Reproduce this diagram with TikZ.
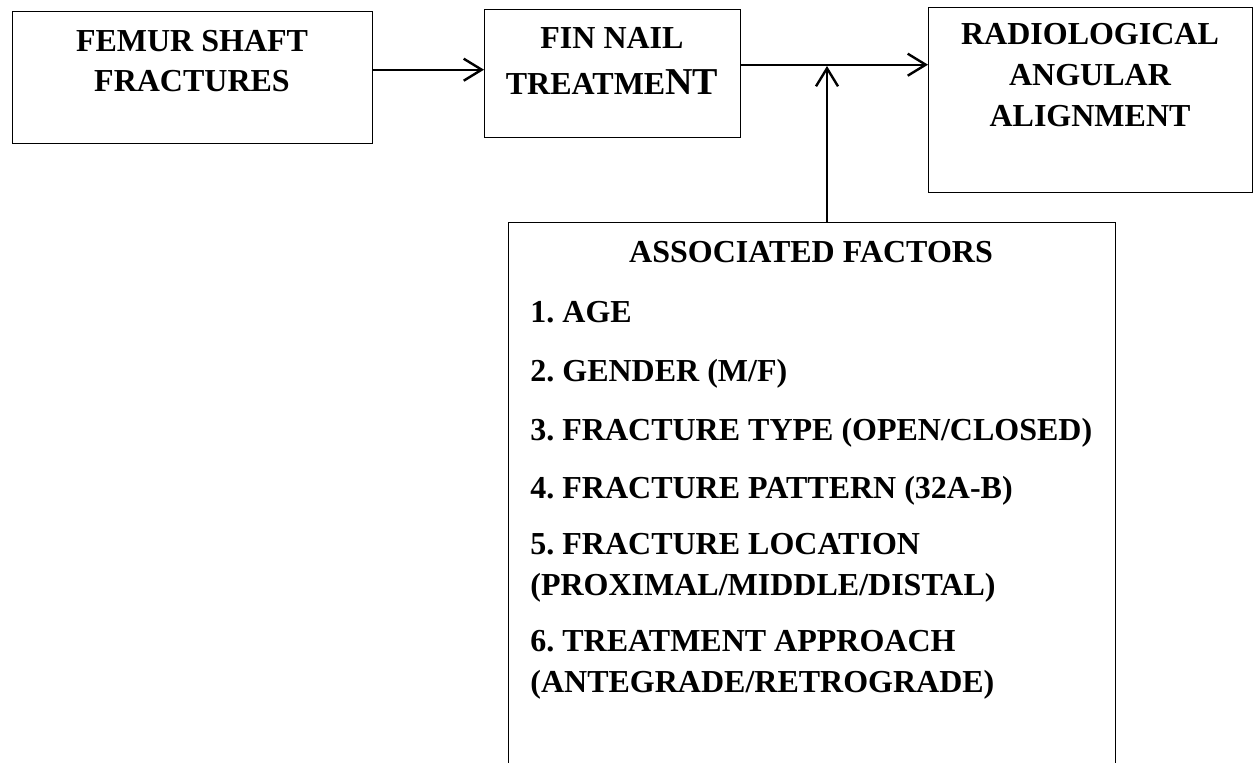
\documentclass[tikz,border=0pt]{standalone}
\usepackage{fontspec}
\setmainfont{Liberation Serif}
\usetikzlibrary{arrows.meta}
\begin{document}
\frenchspacing
\begin{tikzpicture}[x=0.5pt,y=-0.5pt,
  box/.style={draw=black, line width=0.7pt, inner sep=0pt, anchor=north west},
  lbl/.style={inner sep=0pt, font=\bfseries\fontsize{16}{20}\selectfont, align=center, anchor=north},
  itm/.style={inner sep=0pt, font=\bfseries\fontsize{16}{20.5}\selectfont, align=left},
  arr/.style={line width=1.2pt, -{Straight Barb[length=9pt,width=11pt,line width=1.2pt]}}]
\useasboundingbox (0,0) rectangle (1259,762);
\clip (0,0) rectangle (1259,762);
\fill[white] (0,0) rectangle (1259,762);
% boxes
\node[box, minimum width=180pt, minimum height=66pt] (b1) at (12,11) {};
\node[box, minimum width=128pt, minimum height=64pt] (b2) at (484,9) {};
\node[box, minimum width=162pt, minimum height=92.5pt] (b3) at (928,7) {};
\node[box, minimum width=303.5pt, minimum height=289pt] (b4) at (508,222) {};
% texts
\node[lbl] (t1) at (192,30.4) {FEMUR SHAFT\\FRACTURES};
\node[lbl] (t2) at (612,27.4) {FIN NAIL\\[3pt]{\fontsize{16}{20}\selectfont TREATME{\fontsize{19}{20}\selectfont NT}}};
\node[lbl, font=\bfseries\fontsize{16}{20.5}\selectfont] (t3) at (1090,23.4) {RADIOLOGICAL\\ANGULAR\\ALIGNMENT};
\node[lbl, anchor=base] (h4) at (811,262) {ASSOCIATED FACTORS};
\node[itm, anchor=base west] (i1) at (530,322) {1. AGE};
\node[itm, anchor=base west] (i2) at (530,381) {2. GENDER (M/F)};
\node[itm, anchor=base west] (i3) at (530,440) {3. FRACTURE TYPE (OPEN/CLOSED)};
\node[itm, anchor=base west] (i4) at (530,498) {4. FRACTURE PATTERN (32A-B)};
\node[itm, anchor=north west] (i5) at (530,533.4) {5. FRACTURE LOCATION\\(PROXIMAL/MIDDLE/DISTAL)};
\node[itm, anchor=north west] (i6) at (530,629.4) {6. TREATMENT APPROACH\\(ANTEGRADE/RETROGRADE)};
% connectors
\draw[arr] ([yshift=4pt]b1.east) -- ([yshift=2pt]b2.west);
\draw[arr] ([yshift=4.5pt]b2.east) -- ([yshift=17.75pt]b3.west);
\coordinate (j) at (827,66);
\draw[arr] (b4.north -| j) -- (j);
\end{tikzpicture}
\end{document}
